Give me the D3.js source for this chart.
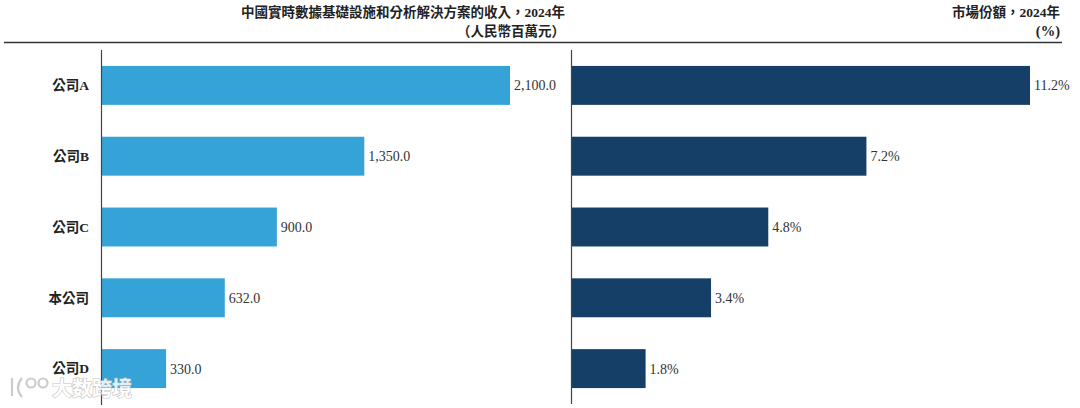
<!DOCTYPE html>
<html><head><meta charset="utf-8">
<script src="https://cdn.jsdelivr.net/npm/d3@7"></script>
<style>
html,body{margin:0;padding:0;background:#fff;}
svg{display:block;}
text{font-family:"Liberation Serif","Noto Sans CJK TC",serif;}
</style></head>
<body>
<svg id="chart" width="1080" height="408"></svg>
<script>
const categories = ["公司A","公司B","公司C","本公司","公司D"];
const revenue = [2100.0, 1350.0, 900.0, 632.0, 330.0];
const share = [11.2, 7.2, 4.8, 3.4, 1.8];
const leftTitle = ["中國實時數據基礎設施和分析解決方案的收入，2024年","（人民幣百萬元）"];
const rightTitle = ["市場份額，2024年","(%)"];

const svg = d3.select("#chart");

// header titles
const tl = svg.append("g").attr("font-weight","bold").attr("font-size",13.5).attr("fill","#222").attr("text-anchor","end");
tl.selectAll("text").data(leftTitle).join("text")
  .attr("x",565).attr("y",(d,i)=>17+i*19).text(d=>d);
const tr = svg.append("g").attr("font-weight","bold").attr("font-size",13.5).attr("fill","#222").attr("text-anchor","end");
tr.selectAll("text").data(rightTitle).join("text")
  .attr("x",1060).attr("y",(d,i)=>17+i*19).attr("font-size",(d,i)=>i===1?14.5:13.5).text(d=>d);

svg.append("line").attr("x1",4).attr("x2",1062).attr("y1",42.5).attr("y2",42.5)
  .attr("stroke","#333").attr("stroke-width",1.6);

const y = d3.scaleBand().domain(categories).range([50,404]).paddingInner(0.45).paddingOuter(0.225);
const xL = d3.scaleLinear().domain([0, d3.max(revenue)]).range([102,510]);
const xR = d3.scaleLinear().domain([0, d3.max(share)]).range([572,1030]);

// category labels
svg.append("g").selectAll("text").data(categories).join("text")
  .attr("x",89).attr("y",d=>y(d)+y.bandwidth()/2).attr("dy","0.35em")
  .attr("text-anchor","end").attr("font-weight","bold").attr("font-size",13.5).attr("fill","#222")
  .text(d=>d);

// left bars
svg.append("g").selectAll("rect").data(revenue).join("rect")
  .attr("x",xL(0)).attr("y",(d,i)=>y(categories[i]))
  .attr("width",d=>xL(d)-xL(0)).attr("height",y.bandwidth())
  .attr("fill","#35a3d7");
svg.append("g").selectAll("text").data(revenue).join("text")
  .attr("x",d=>xL(d)+4).attr("y",(d,i)=>y(categories[i])+y.bandwidth()/2).attr("dy","0.35em")
  .attr("font-size",14).attr("fill","#333")
  .text(d=>d3.format(",.1f")(d));

// right bars
svg.append("g").selectAll("rect").data(share).join("rect")
  .attr("x",xR(0)).attr("y",(d,i)=>y(categories[i]))
  .attr("width",d=>xR(d)-xR(0)).attr("height",y.bandwidth())
  .attr("fill","#153f67");
svg.append("g").selectAll("text").data(share).join("text")
  .attr("x",d=>xR(d)+4).attr("y",(d,i)=>y(categories[i])+y.bandwidth()/2).attr("dy","0.35em")
  .attr("font-size",14).attr("fill","#333")
  .text(d=>d3.format(".1f")(d)+"%");

// axes (baselines)
const axL = d3.axisLeft(y).tickSize(0).tickFormat("");
svg.append("g").attr("transform",`translate(${xL(0)-0.5},0)`).call(axL)
  .call(g=>g.select(".domain").attr("d","M0,50V405").attr("stroke","#444").attr("stroke-width",1.2));
svg.append("g").attr("transform",`translate(${xR(0)-0.5},0)`).call(axL)
  .call(g=>g.select(".domain").attr("d","M0,50V404").attr("stroke","#444").attr("stroke-width",1.2));

// watermark
const wm = svg.append("g").attr("opacity",0.85);
wm.append("text").attr("x",52).attr("y",396).attr("font-family","Noto Sans CJK SC")
  .attr("font-weight","bold").attr("font-size",20).attr("fill","#fff")
  .attr("stroke","#bbb").attr("stroke-width",1.2).attr("paint-order","stroke")
  .text("大数跨境");
const logo = wm.append("g").attr("fill","none").attr("stroke","#c4c4c4").attr("stroke-width",2.2);
logo.append("path").attr("d","M12,378 L12,396");
logo.append("path").attr("d","M22,378 Q14,388 22,397");
logo.append("circle").attr("cx",31).attr("cy",383).attr("r",4.5);
logo.append("circle").attr("cx",43).attr("cy",383).attr("r",4.5);
</script>
</body></html>
